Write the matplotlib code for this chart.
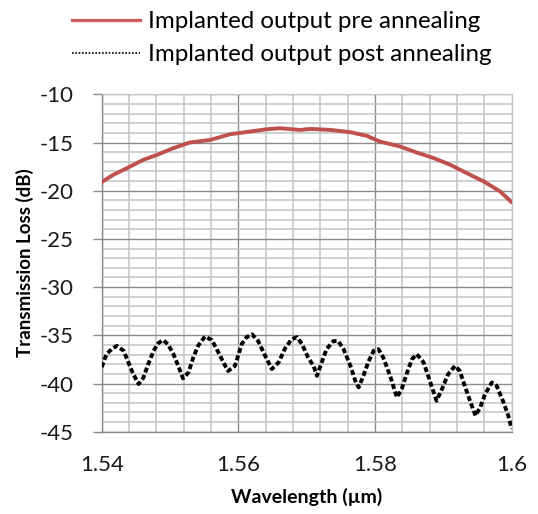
import matplotlib
matplotlib.use("Agg")
import matplotlib.pyplot as plt
from matplotlib.lines import Line2D
from matplotlib.ticker import MultipleLocator

plt.rcParams['font.family'] = ['Lato', 'DejaVu Sans']
plt.rcParams['axes.unicode_minus'] = False

# Pre-annealing trace (wavelength um, dB)
pre_wl = [1.5400, 1.5417, 1.5439, 1.5461, 1.5481, 1.5505, 1.5529, 1.5559, 1.5588,
          1.5600, 1.5642, 1.5661, 1.5690, 1.5705, 1.5734, 1.5764, 1.5788, 1.5807,
          1.5837, 1.5861, 1.5886, 1.5910, 1.5934, 1.5959, 1.5983, 1.6000]
pre_db = [-19.10, -18.35, -17.59, -16.79, -16.28, -15.58, -15.00, -14.73, -14.14,
          -14.03, -13.62, -13.52, -13.70, -13.59, -13.69, -13.93, -14.31, -14.90,
          -15.42, -16.04, -16.62, -17.31, -18.17, -19.04, -20.07, -21.20]

# Post-annealing trace (wavelength um, dB)
post_wl = [1.5400, 1.5407, 1.5415, 1.5422, 1.5432, 1.5439, 1.5446, 1.5454, 1.5461,
           1.5468, 1.5476, 1.5483, 1.5490, 1.5497, 1.5505, 1.5512, 1.5519, 1.5527,
           1.5534, 1.5541, 1.5551, 1.5561, 1.5571, 1.5578, 1.5585, 1.5595, 1.5605,
           1.5612, 1.5620, 1.5629, 1.5639, 1.5649, 1.5659, 1.5668, 1.5678, 1.5686,
           1.5693, 1.5702, 1.5710, 1.5715, 1.5722, 1.5729, 1.5739, 1.5746, 1.5754,
           1.5764, 1.5771, 1.5776, 1.5783, 1.5790, 1.5798, 1.5805, 1.5812, 1.5822,
           1.5832, 1.5839, 1.5847, 1.5854, 1.5861, 1.5871, 1.5881, 1.5890, 1.5898,
           1.5907, 1.5917, 1.5924, 1.5932, 1.5939, 1.5947, 1.5954, 1.5961, 1.5971,
           1.5978, 1.5988, 1.5995, 1.6000]
post_db = [-38.30, -36.96, -36.40, -36.10, -36.60, -37.80, -39.00, -40.06, -39.40,
           -38.00, -36.60, -35.80, -35.50, -35.93, -36.96, -38.17, -39.47, -38.85,
           -37.30, -36.10, -35.13, -35.48, -36.80, -37.80, -38.70, -38.17, -35.90,
           -35.20, -34.90, -35.60, -37.10, -38.50, -37.80, -36.40, -35.40, -35.20,
           -35.90, -37.30, -38.17, -39.20, -37.80, -36.44, -35.60, -35.60, -36.44,
           -38.17, -39.70, -40.40, -39.20, -37.80, -36.60, -36.44, -37.30, -39.20,
           -41.44, -40.58, -38.85, -37.48, -36.96, -37.80, -39.90, -41.79, -40.58,
           -39.03, -38.17, -38.69, -40.40, -41.79, -43.34, -42.47, -41.10, -39.90,
           -40.24, -41.95, -43.34, -44.70]

labels = ["Implanted output pre annealing", "Implanted output post annealing"]
x_ticks = [1.54, 1.56, 1.58, 1.60]
x_tick_labels = ["1.54", "1.56", "1.58", "1.6"]
y_ticks = [-10, -15, -20, -25, -30, -35, -40, -45]

red = "#C0504D"

fig = plt.figure(figsize=(5.38, 5.14), dpi=100)
ax = fig.add_axes([101.7/538, 1-431.7/514, (511.7-101.7)/538, (431.7-94.3)/514])

ax.plot(pre_wl, pre_db, color=red, lw=2.8, solid_capstyle='round', zorder=3)
ax.plot(post_wl, post_db, color="black", lw=2.8, linestyle=(0, (1.3, 0.7)), zorder=3)

ax.set_xlim(1.54, 1.60)
ax.set_ylim(-45, -10)
ax.set_xticks(x_ticks)
ax.set_xticklabels(x_tick_labels)
ax.set_yticks(y_ticks)
ax.xaxis.set_minor_locator(MultipleLocator(0.004))
ax.yaxis.set_minor_locator(MultipleLocator(1))

ax.grid(which='major', color='#8c8c8c', lw=1.0)
ax.grid(which='minor', color='#c4c4c4', lw=1.1)
ax.set_axisbelow(True)

for s in ['top', 'right']:
    ax.spines[s].set_color('#c4c4c4')
for s in ['left', 'bottom']:
    ax.spines[s].set_color('#8c8c8c')
    ax.spines[s].set_linewidth(1.0)

ax.tick_params(axis='both', which='major', labelsize=16, color='#8c8c8c',
               length=6.5, width=1.0, labelcolor='#1a1a1a')
ax.tick_params(axis='y', which='major', pad=14)
ax.tick_params(axis='x', which='major', pad=17, length=0)
ax.tick_params(axis='both', which='minor', length=0)

ax.set_xlabel("Wavelength (µm)", fontsize=14, fontweight='bold', labelpad=9)
ax.set_ylabel("Transmission Loss (dB)", fontsize=13.5, fontweight='bold', labelpad=4)

handles = [Line2D([], [], color='#CD5C5A', lw=2.3),
           Line2D([], [], color='black', lw=1.2, linestyle=(0, (1, 1)))]
fig.legend(handles, labels, loc='upper left', bbox_to_anchor=(57/538, 1 + 3/514),
           frameon=False, fontsize=17.4, handlelength=2.85, handletextpad=0.3,
           labelspacing=0.48, borderpad=0.1)

fig.savefig("out.png", dpi=100)
